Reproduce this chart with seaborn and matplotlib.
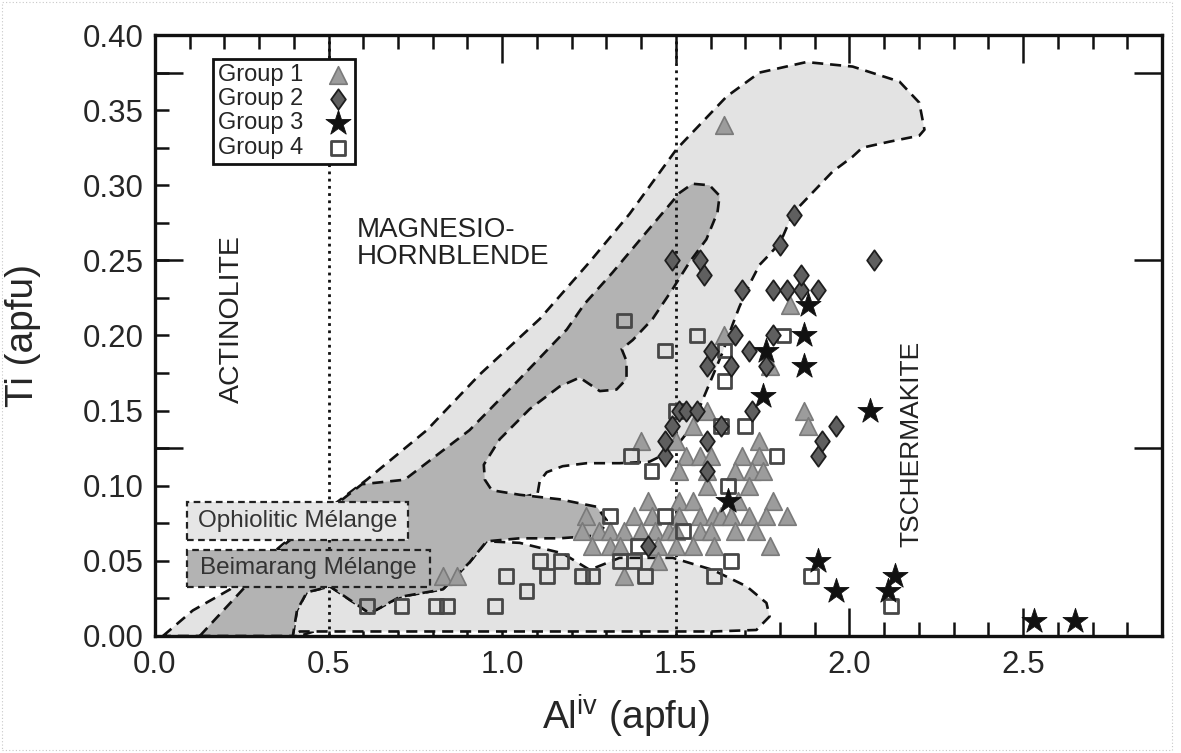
import matplotlib
matplotlib.use("Agg")
import matplotlib.pyplot as plt
from matplotlib.path import Path
from matplotlib.patches import Rectangle
from matplotlib.ticker import MultipleLocator, FixedLocator, FormatStrFormatter
import numpy as np
import pandas as pd
import seaborn as sns

sns.set_theme(style="ticks")
plt.rcParams["font.family"] = ["Liberation Sans", "DejaVu Sans"]
plt.rcParams["mathtext.default"] = "regular"

# ---------------------------------------------------------------- analyses
g1_al = [1.64, 1.83, 1.64, 1.77, 1.59, 1.87, 1.55, 1.88,
         1.40, 1.50, 1.74,
         1.53, 1.57, 1.60, 1.69, 1.74,
         1.51, 1.59, 1.67, 1.72, 1.75,
         1.59, 1.71,
         1.42, 1.51, 1.55, 1.68, 1.78,
         1.24, 1.38, 1.43, 1.51, 1.57, 1.61, 1.63, 1.66, 1.71, 1.76, 1.82,
         1.23, 1.28, 1.31, 1.35, 1.40, 1.44, 1.48, 1.50, 1.57, 1.60, 1.67, 1.73,
         1.26, 1.31, 1.34, 1.45, 1.50, 1.55, 1.61, 1.77,
         1.45, 0.83, 0.87, 1.35]
g1_ti = [0.34, 0.22, 0.20, 0.18, 0.15, 0.15, 0.14, 0.14,
         0.13, 0.13, 0.13,
         0.12, 0.12, 0.12, 0.12, 0.12,
         0.11, 0.11, 0.11, 0.11, 0.11,
         0.10, 0.10,
         0.09, 0.09, 0.09, 0.09, 0.09,
         0.08, 0.08, 0.08, 0.08, 0.08, 0.08, 0.08, 0.08, 0.08, 0.08, 0.08,
         0.07, 0.07, 0.07, 0.07, 0.07, 0.07, 0.07, 0.07, 0.07, 0.07, 0.07, 0.07,
         0.06, 0.06, 0.06, 0.06, 0.06, 0.06, 0.06, 0.06,
         0.05, 0.04, 0.04, 0.04]

g2_al = [1.42, 1.47, 1.47, 1.49, 1.51, 1.53, 1.56, 1.49, 1.57, 1.58, 1.59,
         1.59, 1.59, 1.60, 1.63, 1.66, 1.67, 1.69, 1.71, 1.72, 1.76, 1.78,
         1.78, 1.80, 1.82, 1.84, 1.86, 1.86, 1.91, 1.91, 1.92, 1.96, 2.07]
g2_ti = [0.06, 0.12, 0.13, 0.14, 0.15, 0.15, 0.15, 0.25, 0.25, 0.24, 0.11,
         0.13, 0.18, 0.19, 0.14, 0.18, 0.20, 0.23, 0.19, 0.15, 0.18, 0.20,
         0.23, 0.26, 0.23, 0.28, 0.23, 0.24, 0.23, 0.12, 0.13, 0.14, 0.25]

g3_al = [1.65, 1.75, 1.76, 1.87, 1.87, 1.88, 1.91, 1.96, 2.06, 2.11, 2.13,
         2.53, 2.65]
g3_ti = [0.09, 0.16, 0.19, 0.18, 0.20, 0.22, 0.05, 0.03, 0.15, 0.03, 0.04,
         0.01, 0.01]

g4_al = [0.61, 0.71, 0.81, 0.84, 0.98, 1.01, 1.07, 1.11, 1.13, 1.17, 1.23,
         1.26, 1.34, 1.38, 1.41, 1.31, 1.47, 1.52, 1.39, 1.61, 1.66, 1.65,
         1.79, 1.37, 1.43, 1.89, 2.12, 1.35, 1.47, 1.56, 1.64, 1.64, 1.81,
         1.63, 1.70, 1.50]
g4_ti = [0.02, 0.02, 0.02, 0.02, 0.02, 0.04, 0.03, 0.05, 0.04, 0.05, 0.04,
         0.04, 0.05, 0.05, 0.04, 0.08, 0.08, 0.07, 0.06, 0.04, 0.05, 0.10,
         0.12, 0.12, 0.11, 0.04, 0.02, 0.21, 0.19, 0.20, 0.19, 0.17, 0.20,
         0.14, 0.14, 0.15]

group_names = ["Group 1", "Group 2", "Group 3", "Group 4"]

# ------------------------------------------------------ compositional fields
ophiolitic_upper_al = [0.023, 0.109, 0.216, 0.368, 0.524, 0.610, 0.783, 0.935,
                       1.108, 1.252, 1.367, 1.502, 1.646, 1.741, 1.876, 2.009,
                       2.144, 2.201, 2.216, 2.201, 2.115, 2.037, 2.009, 1.951,
                       1.856, 1.827, 1.801, 1.770, 1.741, 1.712, 1.683, 1.663,
                       1.635, 1.606, 1.577, 1.545, 1.511, 1.468, 1.424, 1.338,
                       1.243, 1.174, 1.128, 1.108, 1.102, 1.036, 0.906, 0.829,
                       0.417]
ophiolitic_upper_ti = [0.000, 0.017, 0.031, 0.061, 0.089, 0.104, 0.137, 0.174,
                       0.211, 0.249, 0.281, 0.324, 0.359, 0.375, 0.382, 0.379,
                       0.369, 0.355, 0.337, 0.333, 0.329, 0.325, 0.319, 0.309,
                       0.286, 0.276, 0.262, 0.254, 0.247, 0.234, 0.219, 0.207,
                       0.189, 0.173, 0.157, 0.139, 0.129, 0.121, 0.116, 0.115,
                       0.115, 0.113, 0.109, 0.103, 0.095, 0.091, 0.061, 0.031,
                       0.000]

ophiolitic_lower_al = [0.397, 0.409, 0.437, 0.504, 0.619, 0.705, 0.829, 0.906,
                       0.955, 1.050, 1.174, 1.252, 1.338, 1.491, 1.606, 1.704,
                       1.761, 1.770, 1.732, 1.606, 0.417]
ophiolitic_lower_ti = [0.000, 0.017, 0.029, 0.033, 0.015, 0.026, 0.031, 0.049,
                       0.063, 0.062, 0.055, 0.044, 0.052, 0.052, 0.044, 0.033,
                       0.022, 0.013, 0.004, 0.003, 0.003]

beimarang_al = [0.129, 0.245, 0.368, 0.596, 0.719, 0.906, 1.050, 1.186, 1.237,
                1.318, 1.416, 1.511, 1.548, 1.597, 1.626, 1.620, 1.588, 1.540,
                1.491, 1.433, 1.376, 1.344, 1.358, 1.358, 1.329, 1.281, 1.223,
                1.165, 1.079, 0.993, 0.947, 0.950, 0.970, 1.050, 1.165, 1.272,
                1.301, 1.281, 1.165, 1.050, 0.955, 0.906, 0.829, 0.705, 0.619,
                0.504, 0.437, 0.409, 0.397]
beimarang_ti = [0.000, 0.029, 0.060, 0.101, 0.104, 0.137, 0.171, 0.204, 0.221,
                0.242, 0.269, 0.295, 0.301, 0.300, 0.293, 0.282, 0.264, 0.249,
                0.231, 0.211, 0.197, 0.191, 0.183, 0.171, 0.164, 0.163, 0.172,
                0.166, 0.151, 0.131, 0.114, 0.104, 0.097, 0.094, 0.091, 0.086,
                0.077, 0.067, 0.065, 0.065, 0.063, 0.049, 0.031, 0.026, 0.015,
                0.033, 0.029, 0.017, 0.000]

# ------------------------------------------------------------------ figure
fig = plt.figure(figsize=(11.81, 7.53), dpi=100)
ax = fig.add_axes([0.1312, 0.1554, 0.8527, 0.7981])
ax.set_facecolor("white")

LIGHT = "#e3e3e3"
DARK = "#b3b3b3"
DASH = (0, (4.2, 2.6))


def field(al, ti, face, z):
    ax.fill(al, ti, facecolor=face, edgecolor="none", zorder=z)
    ax.plot(list(al) + [al[0]], list(ti) + [ti[0]], color="#111111",
            lw=1.9, ls=DASH, zorder=z + 0.05, clip_on=True)


field(ophiolitic_upper_al, ophiolitic_upper_ti, LIGHT, 1.0)
field(ophiolitic_lower_al, ophiolitic_lower_ti, LIGHT, 1.2)
field(beimarang_al, beimarang_ti, DARK, 1.4)

# classification boundaries
for xv in (0.5, 1.5):
    ax.axvline(xv, color="#111111", lw=2.0, ls=(0, (1.0, 1.6)), zorder=1.7)

# ---------------------------------------------------------------- symbols
diamond = Path([(0, 1), (0.72, 0), (0, -1), (-0.72, 0), (0, 1)],
               [Path.MOVETO, Path.LINETO, Path.LINETO, Path.LINETO,
                Path.CLOSEPOLY])

sns.scatterplot(x=g1_al, y=g1_ti, marker="^", s=160, color="#9c9c9c",
                edgecolor="#7a7a7a", linewidth=1.2, ax=ax, zorder=3,
                label=group_names[0], legend=False)
sns.scatterplot(x=g4_al, y=g4_ti, marker="s", s=100, facecolor="none",
                edgecolor="#474747", linewidth=2.0, ax=ax, zorder=3.2,
                label=group_names[3], legend=False)
sns.scatterplot(x=g2_al, y=g2_ti, marker=diamond, s=215, color="#5f5f5f",
                edgecolor="#1e1e1e", linewidth=1.3, ax=ax, zorder=3.4,
                label=group_names[1], legend=False)
sns.scatterplot(x=g3_al, y=g3_ti, marker="*", s=360, color="#111111",
                edgecolor="#111111", linewidth=0.6, ax=ax, zorder=3.6,
                label=group_names[2], legend=False)

# ------------------------------------------------------------ annotations
txt = dict(color="#222222")
ax.text(0.222, 0.211, "ACTINOLITE", rotation=90, ha="center", va="center",
        fontsize=20.5, **txt)
ax.text(0.581, 0.261, "MAGNESIO-\nHORNBLENDE", ha="left", va="center",
        linespacing=1.05, fontsize=20, **txt)
ax.text(2.178, 0.128, "TSCHERMAKITE", rotation=90, ha="center", va="center",
        fontsize=19, **txt)

ax.add_patch(Rectangle((0.092, 0.064), 0.636, 0.025, facecolor="#e6e6e6",
                       edgecolor="#222222", lw=1.6, ls=(0, (3, 2)), zorder=2.5))
ax.text(0.410, 0.0765, "Ophiolitic Mélange", ha="center", va="center",
        fontsize=17.5, color="#333333", zorder=2.6)
ax.add_patch(Rectangle((0.092, 0.0327), 0.699, 0.0246, facecolor="#b3b3b3",
                       edgecolor="#222222", lw=1.6, ls=(0, (3, 2)), zorder=2.5))
ax.text(0.442, 0.0452, "Beimarang Mélange", ha="center", va="center",
        fontsize=17.5, color="#333333", zorder=2.6)

# ------------------------------------------------------------------ axes
ax.set_xlim(0, 2.9)
ax.set_ylim(0, 0.4)
ax.xaxis.set_major_locator(MultipleLocator(0.5))
ax.xaxis.set_minor_locator(MultipleLocator(0.1))
ax.yaxis.set_major_locator(MultipleLocator(0.05))
ax.yaxis.set_minor_locator(MultipleLocator(0.025))
ax.xaxis.set_major_formatter(FormatStrFormatter("%.1f"))
ax.yaxis.set_major_formatter(FormatStrFormatter("%.2f"))

for sp in ax.spines.values():
    sp.set_linewidth(2.4)
    sp.set_color("#111111")
    sp.set_zorder(5)

ax.tick_params(axis="x", which="major", direction="in", length=20, width=1.8,
               top=True, bottom=True, labelsize=22.5, pad=10, color="#111111")
ax.tick_params(axis="x", which="minor", direction="in", length=10, width=1.8,
               top=True, bottom=True, color="#111111")
ax.tick_params(axis="y", which="both", direction="in", length=10, width=1.8,
               left=True, right=True, labelsize=22.5, pad=8, color="#111111")

# long ticks every 0.125 apfu on both Ti axes
ax2 = ax.twinx()
ax2.set_ylim(0, 0.4)
ax2.yaxis.set_major_locator(FixedLocator([0.125, 0.25, 0.375]))
ax2.yaxis.set_minor_locator(FixedLocator([]))
ax2.tick_params(axis="y", direction="in", length=20, width=1.8, left=True,
                right=True, labelleft=False, labelright=False,
                color="#111111")
for sp in ax2.spines.values():
    sp.set_visible(False)
ax2.grid(False)

ax.set_xlabel(r"Al$^{iv}$ (apfu)", fontsize=28)
ax.set_ylabel("Ti (apfu)", fontsize=28)
ax.xaxis.set_label_coords(0.468, -0.095)
ax.yaxis.set_label_coords(-0.113, 0.50)

# ---------------------------------------------------------------- legend
handles = [c for c in ax.collections if c.get_label() in group_names]
handles = sorted(handles, key=lambda c: group_names.index(c.get_label()))
leg = ax2.legend(handles, group_names, loc="upper left",
                 bbox_to_anchor=(0.058, 0.96), markerfirst=False,
                 frameon=True, fancybox=False, framealpha=1,
                 edgecolor="#111111", fontsize=17, borderpad=0.2,
                 labelspacing=0.1, handletextpad=0.9, borderaxespad=0,
                 handlelength=1.1)
leg.get_frame().set_linewidth(2.0)
leg.set_zorder(10)

# light dotted page frame
fig.add_artist(Rectangle((0.002, 0.004), 0.99, 0.993, transform=fig.transFigure,
                         fill=False, edgecolor="#c8c8c8", lw=0.8,
                         ls=(0, (1, 2))))

fig.savefig("out.png", dpi=100)
